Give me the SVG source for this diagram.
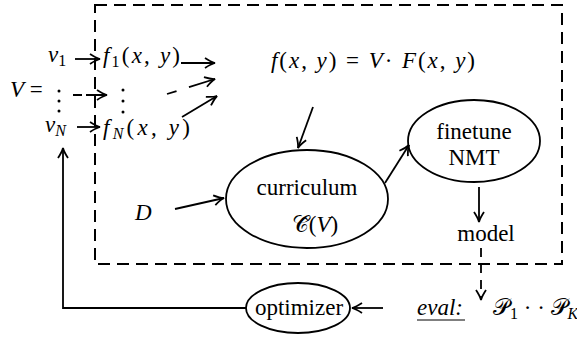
<svg xmlns="http://www.w3.org/2000/svg" width="577" height="338" viewBox="0 0 577 338">
<style>
text{font-family:'Liberation Serif',serif;font-size:23px;fill:#000}
.i{font-style:italic}
.m{text-anchor:middle}
.sub{font-size:16px;font-style:normal}
.node{fill:none;stroke:#000;stroke-width:1.8}
.c{fill:none;stroke:#000;stroke-width:1.8;marker-end:url(#arr)}
.box{fill:none;stroke:#000;stroke-width:2;stroke-dasharray:12 7}
</style>
<defs>
<marker id="arr" viewBox="-12 -7 14 14" refX="0" refY="0" markerWidth="14" markerHeight="14" markerUnits="userSpaceOnUse" orient="auto">
<path d="M-10,-5 Q-4,-1 0,0 Q-4,1 -10,5" fill="none" stroke="#000" stroke-width="1.8"/>
</marker>
</defs>
<rect width="577" height="338" fill="#fff"/>
<rect class="box" x="95" y="5" width="467" height="259"/>
<g id="connectors">
<path class="c" d="M75,59 L100,59"/>
<path class="c" d="M181,63 L215,63"/>
<path class="c" style="stroke-dasharray:9 4 40" d="M73,95 L107,95"/>
<path class="c" style="stroke-dasharray:10 13 60" d="M167,94 L215,79"/>
<path class="c" d="M182,117 L217,96"/>
<path class="c" d="M77,127 L100,127"/>
<path class="c" d="M313,107 L298,148"/>
<path class="c" d="M175,209 L224,198"/>
<path class="c" d="M385,183 L409,145"/>
<path class="c" d="M479,187 L479,222"/>
<path class="c" style="stroke-dasharray:9 7" d="M481,248 L481,300"/>
<path class="c" d="M383,308 L352,308"/>
<path class="c" d="M246,308 L63,308 L63,148"/>
</g>
<g id="V">
<text x="10" y="97"><tspan class="i">V</tspan> =</text>
<circle cx="59" cy="91" r="1.5"/><circle cx="59" cy="101" r="1.5"/><circle cx="59" cy="111" r="1.5"/>
</g>
<g id="v1"><text x="48" y="62"><tspan class="i">v</tspan><tspan class="sub" dy="4">1</tspan></text></g>
<g id="vN"><text x="45" y="132"><tspan class="i">v</tspan><tspan class="sub" dy="4" style="font-style:italic">N</tspan></text></g>
<g id="f1"><text x="103" y="63" textLength="77"><tspan class="i">f</tspan><tspan class="sub" dy="4">1</tspan><tspan dy="-4">(</tspan><tspan class="i">x</tspan>, <tspan class="i">y</tspan>)</text></g>
<g id="fdots"><circle cx="123" cy="90" r="1.5"/><circle cx="123" cy="101" r="1.5"/><circle cx="123" cy="112" r="1.5"/></g>
<g id="fN"><text x="103" y="135" textLength="87"><tspan class="i">f</tspan><tspan class="sub" dy="4" style="font-style:italic">N</tspan><tspan dy="-4">(</tspan><tspan class="i">x</tspan>, <tspan class="i">y</tspan>)</text></g>
<g id="F"><text x="271" y="68" textLength="204"><tspan class="i">f</tspan>(<tspan class="i">x</tspan>, <tspan class="i">y</tspan>) = <tspan class="i">V</tspan>· <tspan class="i">F</tspan>(<tspan class="i">x</tspan>, <tspan class="i">y</tspan>)</text></g>
<g id="D"><text x="135" y="220" class="i">D</text></g>
<g id="curriculum">
<ellipse class="node" cx="307" cy="199" rx="81" ry="49"/>
<text class="m" x="307" y="195">curriculum</text>
<text class="m" x="315" y="232">𝒞̂(<tspan class="i">V</tspan>)</text>
</g>
<g id="finetune">
<ellipse class="node" cx="474" cy="141" rx="66" ry="41"/>
<text class="m" x="474" y="139">finetune</text>
<text class="m" x="474" y="165">NMT</text>
</g>
<g id="model"><text class="m" x="486" y="241">model</text></g>
<g id="optimizer">
<ellipse class="node" cx="298" cy="308" rx="52" ry="25"/>
<text class="m" x="299" y="315">optimizer</text>
</g>
<g id="eval">
<text class="i" x="417" y="315">eval:</text>
<line x1="417" y1="320" x2="465" y2="320" stroke="#000" stroke-width="1.2"/>
<text x="493" y="315">𝒫<tspan class="sub" dy="4">1</tspan><tspan dy="-4"> · · 𝒫</tspan><tspan class="sub" dy="4" style="font-style:italic">K</tspan></text>
</g>
</svg>
